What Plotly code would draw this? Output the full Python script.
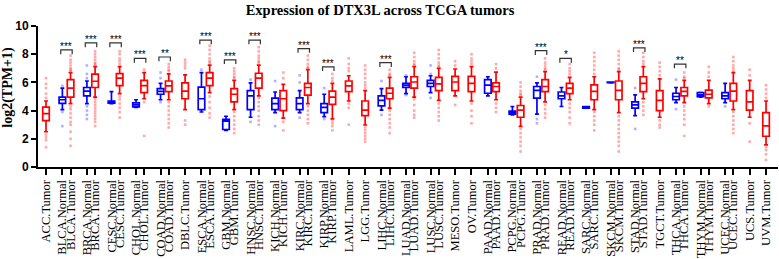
import plotly.graph_objects as go

# ---------------- data ----------------
labels = [
    "ACC.Tumor", "BLCA.Normal", "BLCA.Tumor", "BRCA.Normal", "BRCA.Tumor",
    "CESC.Normal", "CESC.Tumor", "CHOL.Normal", "CHOL.Tumor", "COAD.Normal",
    "COAD.Tumor", "DBLC.Tumor", "ESCA.Normal", "ESCA.Tumor", "GBM.Normal",
    "GBM.Tumor", "HNSC.Normal", "HNSC.Tumor", "KICH.Normal", "KICH.Tumor",
    "KIRC.Normal", "KIRC.Tumor", "KIRP.Normal", "KIRP.Tumor", "LAML.Tumor",
    "LGG.Tumor", "LIHC.Normal", "LIHC.Tumor", "LUAD.Normal", "LUAD.Tumor",
    "LUSC.Normal", "LUSC.Tumor", "MESO.Tumor", "OV.Tumor", "PAAD.Normal",
    "PAAD.Tumor", "PCPG.Normal", "PCPG.Tumor", "PRAD.Normal", "PRAD.Tumor",
    "READ.Normal", "READ.Tumor", "SARC.Normal", "SARC.Tumor", "SKCM.Normal",
    "SKCM.Tumor", "STAD.Normal", "STAD.Tumor", "TGCT.Tumor", "THCA.Normal",
    "THCA.Tumor", "THYM.Normal", "THYM.Tumor", "UCEC.Normal", "UCEC.Tumor",
    "UCS.Tumor", "UVM.Tumor",
]

lower = [2.5, 4.07, 4.5, 4.5, 4.95, 4.5, 5.2, 4.22, 4.84, 4.77,
         4.77, 4.07, 3.9, 5.27, 2.6, 4.07, 3.53, 5.05, 3.86, 3.46,
         3.86, 4.5, 3.57, 3.42, 4.68, 2.98, 4.03, 4.18, 5.2, 4.95,
         5.27, 4.73, 5.05, 4.68, 5.05, 4.77, 3.7, 2.88, 3.75, 4.62,
         4.29, 4.77, 4.18, 4.07, 5.97, 3.86, 3.64, 4.84, 3.53, 4.56,
         4.56, 4.95, 4.5, 4.56, 4.07, 3.53, 1.57]
q1 = [3.29, 4.51, 4.95, 5.05, 5.64, 4.52, 5.77, 4.27, 5.27, 5.16,
      5.34, 4.84, 4.07, 5.77, 2.66, 4.62, 4.07, 5.6, 4.07, 4.0,
      4.07, 5.1, 3.86, 4.44, 5.34, 3.64, 4.33, 4.84, 5.64, 5.6,
      5.71, 5.42, 5.42, 5.34, 5.23, 5.34, 3.75, 3.53, 4.88, 5.34,
      4.84, 5.2, 4.18, 4.77, 5.98, 4.77, 4.18, 5.34, 4.0, 4.77,
      5.05, 4.99, 4.9, 4.84, 4.68, 4.03, 2.18]
median = [3.79, 4.77, 5.6, 5.38, 6.08, 4.58, 6.3, 4.4, 5.77, 5.36,
          5.75, 5.38, 4.84, 6.3, 3.25, 5.16, 5.05, 6.3, 4.5, 4.84,
          4.5, 5.64, 4.23, 4.95, 5.75, 4.03, 4.73, 5.23, 5.79, 6.03,
          5.93, 5.89, 6.03, 5.93, 5.8, 5.71, 3.86, 4.03, 5.43, 5.71,
          5.05, 5.6, 4.23, 5.36, 6.0, 5.43, 4.4, 5.93, 4.73, 5.0,
          5.36, 5.12, 5.16, 5.05, 5.38, 4.62, 2.92]
q3 = [4.25, 4.95, 6.2, 5.64, 6.58, 4.68, 6.62, 4.55, 6.14, 5.56,
      6.1, 5.97, 5.67, 6.69, 3.38, 5.56, 5.42, 6.65, 4.88, 5.42,
      4.9, 5.93, 4.5, 5.38, 6.1, 4.68, 5.05, 5.6, 5.93, 6.4,
      6.14, 6.36, 6.43, 6.43, 6.2, 5.97, 3.97, 4.36, 5.71, 6.19,
      5.32, 5.93, 4.29, 5.82, 6.02, 6.1, 4.62, 6.4, 5.42, 5.23,
      5.64, 5.27, 5.45, 5.27, 5.93, 5.42, 3.86]
upper = [4.68, 5.6, 6.69, 6.1, 7.12, 5.34, 7.12, 4.77, 6.69, 5.93,
         6.6, 6.54, 6.69, 7.23, 3.6, 6.14, 5.97, 7.23, 5.32, 5.86,
         5.42, 6.9, 5.16, 5.93, 6.47, 5.42, 5.56, 6.36, 6.4, 7.12,
         6.47, 7.0, 6.95, 7.12, 6.4, 6.73, 4.29, 4.95, 5.97, 6.77,
         5.64, 6.36, 4.29, 6.4, 6.03, 6.77, 5.12, 7.12, 6.25, 5.64,
         6.14, 5.3, 6.14, 5.93, 6.69, 6.14, 4.68]

outliers = [
    [6.3, 5.9, 5.6, 5.2, 4.9, 2.3, 2.1, 1.9, 1.4],
    [5.75, 3.9, 2.9],
    [7.9, 7.6, 7.4, 7.2, 7.0, 6.9, 6.8, 4.3, 4.1, 3.8, 3.5, 3.2, 3.0, 2.5, 2.0, 1.5],
    [7.2, 6.6, 6.3, 4.3, 4.0, 3.7, 3.4],
    [8.2, 8.0, 7.8, 7.6, 7.4, 7.3, 7.2, 4.8, 4.6, 4.4, 4.2, 4.0, 3.8, 3.6, 3.4, 3.2, 2.9],
    [],
    [8.2, 8.0, 7.7, 7.5, 7.3, 5.0, 4.8, 4.5, 4.2, 3.9, 3.5],
    [],
    [6.9, 4.6, 2.2],
    [6.7, 6.3, 4.6],
    [7.3, 7.1, 6.9, 6.8, 4.6, 4.3, 4.0, 3.7, 3.4, 3.1, 2.8],
    [7.6, 7.4, 7.2, 7.0, 3.3, 3.0],
    [6.9],
    [8.6, 8.3, 8.0, 7.7, 7.5, 7.4, 5.0, 4.6, 4.2, 3.8, 3.5],
    [],
    [7.0, 6.8, 6.6, 6.4, 6.3, 3.9, 3.6, 3.3, 3.0, 2.7, 2.4],
    [6.2, 3.2],
    [8.5, 8.2, 7.9, 7.7, 7.5, 7.4, 4.9, 4.6, 4.3, 4.0, 3.6, 3.3, 3.0],
    [6.1, 2.9],
    [6.7, 6.3, 3.2, 2.6],
    [6.5, 6.0, 3.5],
    [7.9, 7.6, 7.3, 7.1, 7.0, 4.3, 4.0, 3.7, 3.4, 3.1],
    [5.6, 3.4],
    [6.6, 6.3, 6.1, 3.3, 3.1, 2.9, 2.6],
    [7.7, 7.3, 7.0, 6.8, 4.5, 4.2, 3.0],
    [7.2, 6.9, 6.6, 6.3, 6.0, 5.8, 5.6, 2.8, 2.6, 2.4, 2.2, 2.0, 1.8],
    [6.1, 3.7],
    [6.9, 6.6, 6.5, 4.0, 3.7, 3.4, 3.1, 2.8, 2.4],
    [6.5, 5.1],
    [8.1, 7.8, 7.5, 7.3, 7.2, 4.8, 4.4, 4.0, 3.7, 3.5],
    [7.2, 6.6, 4.9],
    [8.3, 8.0, 7.7, 7.4, 7.2, 7.1, 4.5, 4.2, 3.9, 3.6, 3.3],
    [7.5, 7.2, 4.4],
    [8.0, 7.7, 7.5, 7.3, 4.5, 4.0, 3.6, 3.1],
    [],
    [7.3, 7.0, 4.5, 4.2, 3.9],
    [],
    [6.0, 5.7, 5.4, 5.2, 5.1, 2.7, 2.4, 2.1, 1.8, 1.5, 1.1],
    [6.4, 3.4, 3.1],
    [7.7, 7.4, 7.2, 7.0, 6.9, 4.4, 4.1, 3.8, 3.5],
    [],
    [7.3, 7.0, 6.8, 6.6, 4.5, 4.2, 3.9, 3.5, 3.1],
    [],
    [8.1, 7.8, 7.5, 7.2, 6.9, 6.6, 3.9, 3.6, 3.3, 3.0, 2.6],
    [],
    [8.2, 7.9, 7.6, 7.3, 7.0, 6.9, 3.6, 3.3, 3.0, 2.7, 2.4, 2.1, 1.8, 1.5, 1.1],
    [5.6, 2.7],
    [8.1, 7.8, 7.5, 7.3, 4.6, 4.3, 4.0, 3.7],
    [7.4, 7.1, 6.8, 6.5, 3.3, 3.0, 2.8],
    [6.2, 4.1],
    [6.7, 6.4, 6.3, 4.3, 4.0, 3.7, 3.4, 3.0, 2.2],
    [],
    [7.1, 6.7, 6.4, 4.3],
    [4.3],
    [7.8, 7.5, 7.2, 7.0, 6.8, 3.9, 3.6, 3.3, 3.0, 2.7, 2.4],
    [6.9, 6.5, 3.1, 1.8],
    [5.8, 5.5, 5.2, 4.9, 1.4, 1.2, 0.9, 0.5],
]

sig_cancers = ["BLCA", "BRCA", "CESC", "CHOL", "COAD", "ESCA", "GBM", "HNSC",
               "KIRC", "KIRP", "LIHC", "PRAD", "READ", "STAD", "THCA"]
sig_stars = ["***", "***", "***", "***", "**", "***", "***", "***",
             "***", "***", "***", "***", "*", "***", "**"]
sig_heights = [8.3, 8.8, 8.8, 7.7, 7.8, 9.0, 7.6, 9.0,
               8.4, 7.1, 7.4, 8.25, 7.7, 8.45, 7.3]

y_ticks = [0, 2, 4, 6, 8, 10]
title_text = "Expression of DTX3L across TCGA tumors"
y_title = "log2(TPM+1)"

# ---------------- positions (pairs 1 apart, groups 2 apart) ----------------
positions = []
p = 0
prev = None
for lab in labels:
    cancer = lab.split(".")[0]
    if prev is None:
        p = 0
    elif cancer == prev:
        p += 1
    else:
        p += 2
    positions.append(p)
    prev = cancer

pos_of = {lab: x for lab, x in zip(labels, positions)}

BLUE = "#0000FF"
RED = "#FF0000"

fig = go.Figure()

for kind, col, pcol in [("Normal", BLUE, "rgba(60,60,255,0.4)"),
                        ("Tumor", RED, "rgba(255,40,40,0.4)")]:
    idx = [i for i, l in enumerate(labels) if l.endswith(kind)]
    ox, oy = [], []
    for i in idx:
        for v in outliers[i]:
            ox.append(positions[i])
            oy.append(v)
    fig.add_trace(go.Scatter(
        x=ox, y=oy, mode="markers",
        marker=dict(symbol="square", size=2.6, color=pcol, line=dict(width=0)),
        showlegend=False, hoverinfo="skip"))
    fig.add_trace(go.Box(
        x=[positions[i] for i in idx],
        q1=[q1[i] for i in idx],
        median=[median[i] for i in idx],
        q3=[q3[i] for i in idx],
        lowerfence=[lower[i] for i in idx],
        upperfence=[upper[i] for i in idx],
        width=0.8, whiskerwidth=0.6,
        line=dict(color=col, width=1.7),
        fillcolor="rgba(255,255,255,0)",
        boxpoints=False, showlegend=False, name=kind))

# significance brackets
shapes = []
annots = []
for c, s, h in zip(sig_cancers, sig_stars, sig_heights):
    xn = pos_of[c + ".Normal"] - 0.2
    xt = pos_of[c + ".Tumor"] + 0.2
    shapes.append(dict(type="path", xref="x", yref="y",
                       path=f"M {xn} {h-0.3} L {xn} {h} L {xt} {h} L {xt} {h-0.3}",
                       line=dict(color="#333333", width=1.2)))
    annots.append(dict(x=(xn + xt) / 2, y=h, xref="x", yref="y", text=s,
                       showarrow=False, yanchor="bottom", yshift=-4,
                       font=dict(family="Liberation Sans", size=10, color="black")))

annots.append(dict(x=(8 - 38) / 740, y=(179 - 93) / 153, xref="paper", yref="paper",
                   text=y_title, textangle=-90, showarrow=False,
                   xanchor="center", yanchor="middle",
                   font=dict(family="Liberation Serif", size=14, color="black", weight="bold")))

fig.update_layout(
    width=779, height=259,
    margin=dict(l=38, r=1, t=26, b=80),
    paper_bgcolor="white", plot_bgcolor="white",
    boxmode="overlay",
    title=dict(text=title_text, x=380 / 779, xref="container", xanchor="center",
               y=1 - 10 / 259, yref="container", yanchor="middle",
               font=dict(family="Liberation Serif", size=14.5, color="black", weight="bold")),
    shapes=shapes, annotations=annots,
    xaxis=dict(range=[-0.978, 89.46], tickmode="array", tickvals=positions, ticktext=labels,
               tickangle=-90, showgrid=False, zeroline=False,
               showline=True, linecolor="black", linewidth=2,
               ticks="outside", ticklen=6, tickwidth=1.5, tickcolor="black",
               tickfont=dict(family="Liberation Serif", size=12.5, color="black")),
    yaxis=dict(range=[0, 10], tickmode="array", tickvals=y_ticks,
               showgrid=False, zeroline=False,
               showline=True, linecolor="black", linewidth=2,
               ticks="outside", ticklen=5, tickwidth=2, tickcolor="black",
               tickfont=dict(family="Liberation Sans", size=12, color="black", weight="bold")),
)

fig.write_html("out.html")
